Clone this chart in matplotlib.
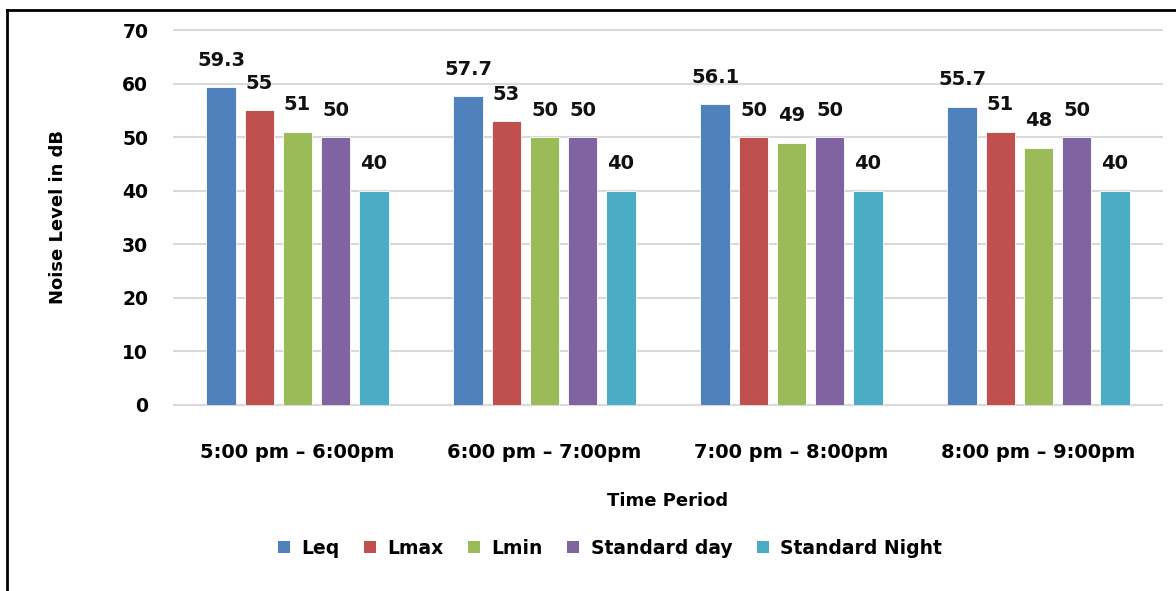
import matplotlib
matplotlib.use("Agg")
import matplotlib.pyplot as plt
import numpy as np
from matplotlib.lines import Line2D
from matplotlib.patches import Patch

categories = ["5:00 pm – 6:00pm", "6:00 pm – 7:00pm", "7:00 pm – 8:00pm", "8:00 pm – 9:00pm"]
series_names = ["Leq", "Lmax", "Lmin", "Standard day", "Standard Night"]
leq = [59.3, 57.7, 56.1, 55.7]
lmax = [55, 53, 50, 51]
lmin = [51, 50, 49, 48]
std_day = [50, 50, 50, 50]
std_night = [40, 40, 40, 40]
label_texts = [
    ["59.3", "57.7", "56.1", "55.7"],
    ["55", "53", "50", "51"],
    ["51", "50", "49", "48"],
    ["50", "50", "50", "50"],
    ["40", "40", "40", "40"],
]
colors = ["#4f81bd", "#c0504d", "#9bbb59", "#8064a2", "#4bacc6"]
yticks = [0, 10, 20, 30, 40, 50, 60, 70]

plt.rcParams['font.family'] = ['DejaVu Sans']

W, H = 1176, 591
fig = plt.figure(figsize=(W / 100, H / 100), dpi=100)
ax = fig.add_axes([174 / W, 1 - 405 / H, (1162 - 174) / W, (405 - 30) / H])

data = [leq, lmax, lmin, std_day, std_night]
x = np.arange(len(categories))
pitch = 0.154
width = 0.121
for i, (vals, c) in enumerate(zip(data, colors)):
    xs = x + (i - 2) * pitch
    ax.bar(xs, vals, width=width, color=c, edgecolor='white', linewidth=0.6, zorder=3, label=series_names[i])
    for xi, v, t in zip(xs, vals, label_texts[i]):
        ax.annotate(t, (xi, v), xytext=(0, 12.5), textcoords='offset points',
                    ha='center', va='bottom', fontsize=14, fontweight='bold', color='#111111')

ax.set_xlim(-0.5, len(categories) - 0.5)
ax.set_ylim(0, 70)
ax.set_yticks(yticks)
ax.set_yticklabels([str(v) for v in yticks], fontsize=13.5, fontweight='bold')
ax.set_xticks(x)
ax.set_xticklabels(categories, fontsize=14, fontweight='bold')
ax.tick_params(axis='both', length=0)
ax.tick_params(axis='y', pad=18.5)
ax.tick_params(axis='x', pad=27)
ax.grid(axis='y', color='#d9d9d9', linewidth=1.5, zorder=0)
for gl in ax.yaxis.get_gridlines():
    gl.set_clip_on(False)
for s in ['top', 'right', 'left']:
    ax.spines[s].set_visible(False)
ax.spines['bottom'].set_color('#d9d9d9')
ax.spines['bottom'].set_linewidth(1.5)

ax.set_ylabel("Noise Level in dB", fontsize=13, fontweight='bold', labelpad=40)
ax.set_xlabel("Time Period", fontsize=13, fontweight='bold', labelpad=22)

handles = [Patch(facecolor=c, edgecolor='none') for c in colors]
fig.legend(handles, series_names, loc='center', bbox_to_anchor=(610 / W, 1 - 548 / H), ncol=5,
           frameon=False, prop={'size': 13.5, 'weight': 'bold'}, handlelength=0.65, handleheight=0.65,
           handletextpad=0.6, columnspacing=1.3)

fig.add_artist(Line2D([7 / W, 7 / W], [0, 1 - 10 / H], color='black', linewidth=2, transform=fig.transFigure))
fig.add_artist(Line2D([7 / W, 1], [1 - 10 / H, 1 - 10 / H], color='black', linewidth=2, transform=fig.transFigure))

fig.savefig("out.png", dpi=100)
